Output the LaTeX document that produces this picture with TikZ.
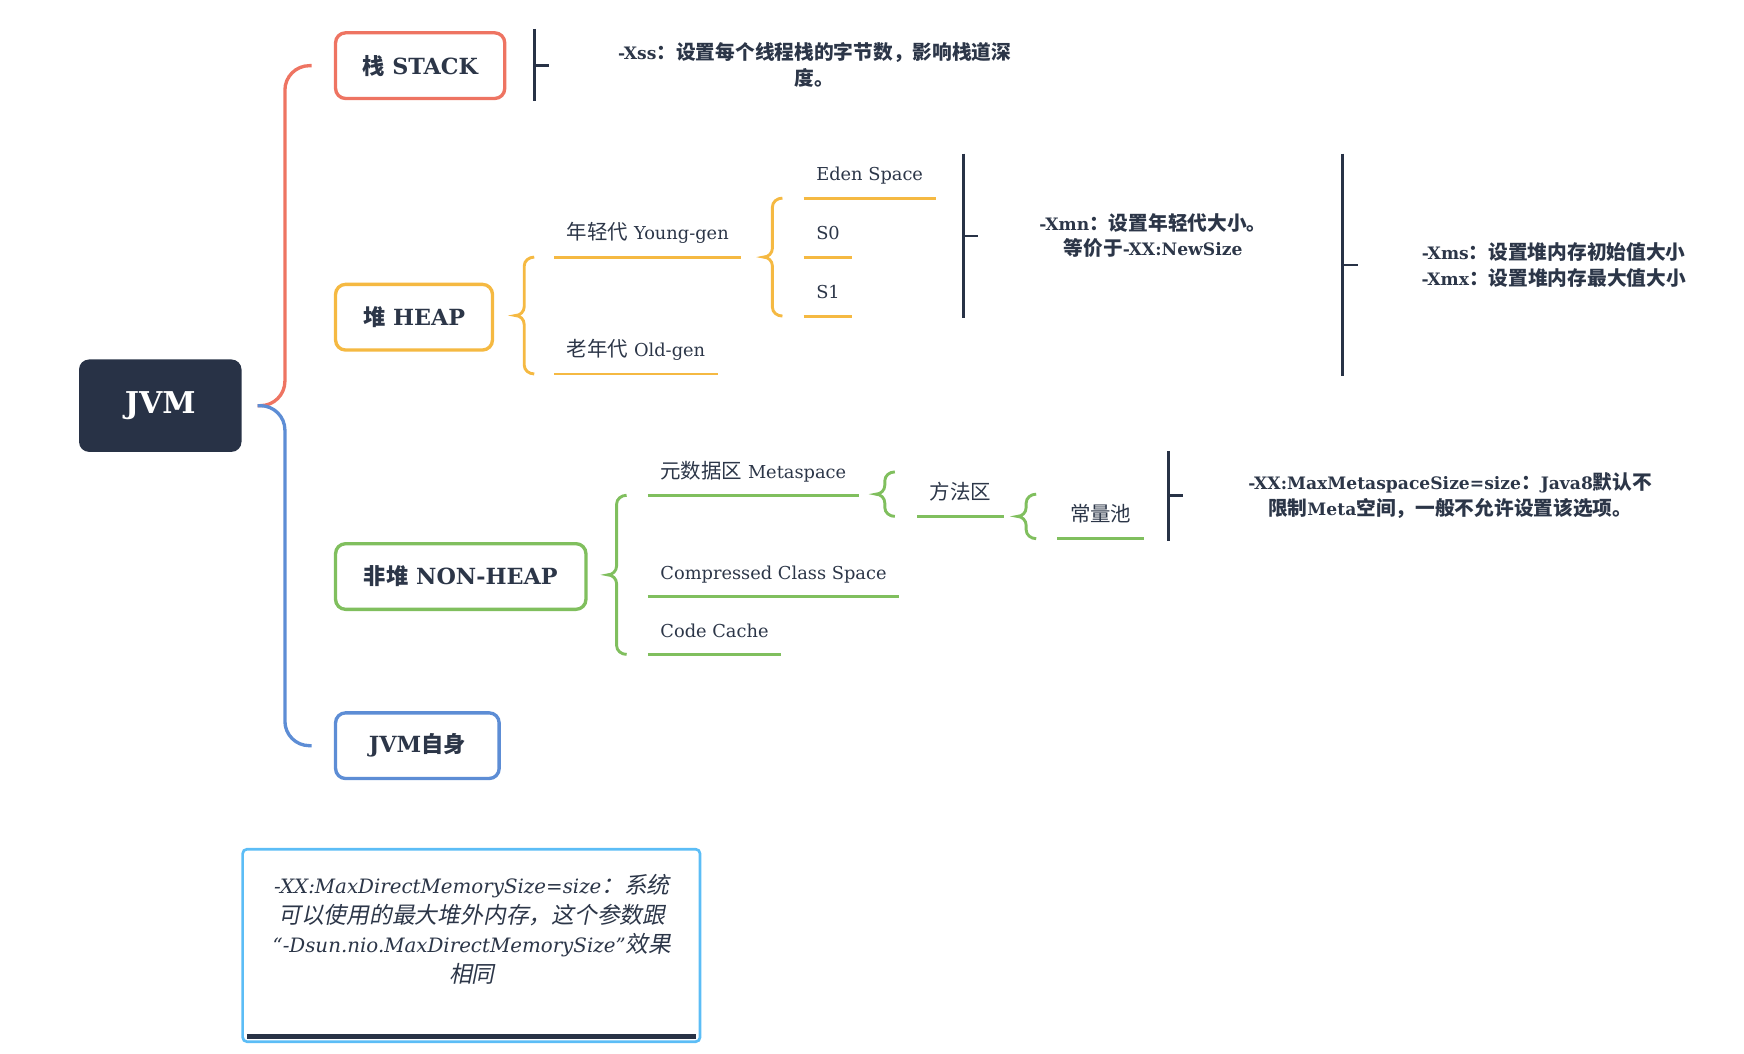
\documentclass[tikz,border=0pt]{standalone}
\usepackage{fontspec}
\setmainfont{DejaVu Serif}
\newfontfamily\cjk{Noto Sans CJK SC}[Scale=1.15,AutoFakeSlant=0.2]
\newfontfamily\cjkn{Noto Sans CJK SC}[AutoFakeSlant=0.2]
\newcommand\zh[1]{{\cjk #1}}
\newcommand\zhn[1]{{\cjkn #1}}
\usetikzlibrary{calc}
\definecolor{dark}{HTML}{283246}
\definecolor{txt}{HTML}{2C3648}
\definecolor{cred}{HTML}{EE7462}
\definecolor{corange}{HTML}{F5B942}
\definecolor{cgreen}{HTML}{80BF5E}
\definecolor{cblue}{HTML}{5D8DD5}
\definecolor{lblue}{HTML}{5CBDF6}
\newcommand\mbrace[3]{%
  \draw[#1] ([shift={(8.5pt,#3)}]#2) to[out=180,in=90] ([shift={(4pt,#3-4pt)}]#2)
    -- ([shift={(4pt,4pt)}]#2) to[out=-90,in=0] (#2) to[out=0,in=90] ([shift={(4pt,-4pt)}]#2)
    -- ([shift={(4pt,4pt-#3)}]#2) to[out=-90,in=180] ([shift={(8.5pt,-#3)}]#2);}
\begin{document}
\begin{tikzpicture}[x=0.5pt,y=-0.5pt,
  root/.style={fill=dark, rounded corners=4.5pt, minimum width=73pt, minimum height=41.5pt,
    inner sep=0pt, text=white, font=\bfseries\fontsize{13.5}{16}\selectfont},
  topic/.style={draw=#1, line width=1.5pt, rounded corners=4.5pt, fill=white,
    minimum height=29.5pt, inner sep=0pt, text=txt, anchor=west,
    font=\bfseries\fontsize{10}{12}\selectfont},
  lbl/.style={anchor=south west, inner xsep=5.5pt, inner ysep=0pt, text height=8pt,
    text depth=7.5pt, text=txt, font=\fontsize{8}{10}\selectfont},
  ulO/.style={draw=corange, line width=1.3pt},
  ulG/.style={draw=cgreen, line width=1.3pt},
  trunkR/.style={draw=cred, line width=1.5pt, rounded corners=11pt},
  trunkB/.style={draw=cblue, line width=1.5pt, rounded corners=11pt},
  nb/.style={draw=dark, line width=1.2pt},
  note/.style={align=center, text=txt, inner sep=0pt,
    font=\bfseries\fontsize{7.7}{11.5}\selectfont}]
\useasboundingbox (0,0) rectangle (1567,947);

% root and main topics
\node[root] (jvm) at (144,364.5) {JVM};
\node[topic=cred, minimum width=76pt] (stack) at (300,59) {\zhn{栈} STACK};
\node[topic=corange, minimum width=70.5pt] (heap) at (300,285) {\zhn{堆} HEAP};
\node[topic=cgreen, minimum width=112.5pt] (nonheap) at (300,518) {\zhn{非堆} NON-HEAP};
\node[topic=cblue, minimum width=73.5pt] (self) at (300,670) {JVM\zhn{自身}};

\draw[trunkR] ([xshift=7pt]jvm.east) -| ([xshift=-22pt]stack.west) -- ([xshift=-10pt]stack.west);
\draw[trunkB] ([xshift=7pt]jvm.east) -| ([xshift=-22pt]self.west) -- ([xshift=-10pt]self.west);

% heap branch
\node[lbl] (young) at (498,231) {\zh{年轻代} Young-gen};
\node[lbl] (old) at (498,336) {\zh{老年代} Old-gen};
\node[lbl] (eden) at (722,178) {Eden Space};
\node[lbl] (s0) at (722,231) {S0};
\node[lbl] (s1) at (722,284) {S1};
\foreach \n in {young,old,eden,s0,s1} \draw[ulO] (\n.south west) -- (\n.south east);
\coordinate (tHeap) at ($(young.south west)!0.5!(old.south west)+(-17.5pt,0)$);
\coordinate (tYoung) at ($(s0.south west)+(-18pt,0)$);
\mbrace{ulO}{tHeap}{26.25pt}
\mbrace{ulO}{tYoung}{26.5pt}

% non-heap branch
\node[lbl] (meta) at (582,445) {\zh{元数据区} Metaspace};
\node[lbl] (ccs) at (582,536) {Compressed Class Space};
\node[lbl] (cc) at (582,588) {Code Cache};
\node[lbl] (ffq) at (824,464) {\zh{方法区}};
\node[lbl] (clc) at (950,484) {\zh{常量池}};
\foreach \n in {meta,ccs,cc,ffq,clc} \draw[ulG] (\n.south west) -- (\n.south east);
\coordinate (tNon) at ($(meta.south west)!0.5!(cc.south west)+(-18pt,0)$);
\coordinate (tMeta) at ($(ffq.south west)+(-18.5pt,10pt)$);
\coordinate (tFfq) at ($(clc.south west)+(-18pt,10pt)$);
\mbrace{ulG}{tNon}{35.75pt}
\mbrace{ulG}{tMeta}{10pt}
\mbrace{ulG}{tFfq}{10pt}

% summary brackets and notes
\coordinate (bS) at ([xshift=12.5pt]stack.east);
\draw[nb] ([yshift=16.5pt]bS) -- ([yshift=-16pt]bS);
\draw[nb] (bS) -- ++(6.5pt,0);
\node[note] (nXss) at (732,58.5) {-Xss\zh{：设置每个线程栈的字节数，影响栈道深}\\\zh{度。}};

\coordinate (bY) at (866,212);
\draw[nb] ([yshift=37pt]bY) -- ([yshift=-37pt]bY);
\draw[nb] (bY) -- ++(6.5pt,0);
\node[note] (nXmn) at (1036,211.5) {-Xmn\zh{：设置年轻代大小。}\\\zh{等价于}-XX:NewSize};

\coordinate (bH) at (1206,238);
\draw[nb] ([yshift=50pt]bH) -- ([yshift=-50pt]bH);
\draw[nb] (bH) -- ++(7pt,0);
\node[note] (nXms) at (1396,238) {-Xms\zh{：设置堆内存初始值大小}\\-Xmx\zh{：设置堆内存最大值大小}};

\coordinate (bC) at (1050,445.5);
\draw[nb] ([yshift=20.25pt]bC) -- ([yshift=-20.25pt]bC);
\draw[nb] (bC) -- ++(6.5pt,0);
\node[note] (nMeta) at (1303,445.5) {-XX:MaxMetaspaceSize=size\zh{：}Java8\zh{默认不}\\\zh{限制}Meta\zh{空间，一般不允许设置该选项。}};

% direct memory box
\node[draw=lblue, line width=1.2pt, rounded corners=2pt, minimum width=205.5pt,
  minimum height=86.5pt, inner sep=0pt] (dbox) at (423.5,849.5) {};
\node[align=center, text=txt, inner sep=0pt, font=\itshape\fontsize{8.9}{13.3}\selectfont]
  (dtext) at (424,835) {-XX:MaxDirectMemorySize=size\zh{：系统}\\\zh{可以使用的最大堆外内存，这个参数跟}\\“-Dsun.nio.MaxDirectMemorySize”\zh{效果}\\\zh{相同}};
\draw[dark, line width=2pt] ([shift={(2.5pt,3pt)}]dbox.south west) -- ([shift={(-2.5pt,3pt)}]dbox.south east);
\end{tikzpicture}
\end{document}
